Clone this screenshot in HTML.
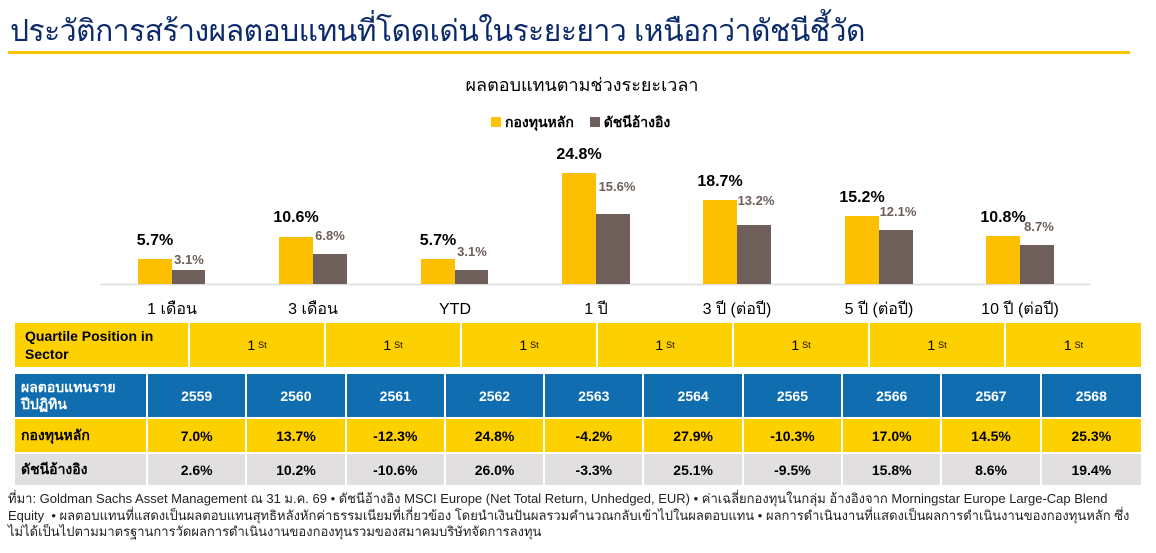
<!DOCTYPE html>
<html><head><meta charset="utf-8"><style>
*{margin:0;padding:0;box-sizing:border-box}
body{width:1156px;height:553px;background:#fff;position:relative;overflow:hidden;font-family:"Liberation Sans","DejaVu Sans",sans-serif}
.a{position:absolute}
.title{left:10px;top:8px;font-size:30px;color:#0b2a6b;white-space:nowrap;letter-spacing:-0.5px}
.row{position:absolute;display:flex}
.row div{display:flex;align-items:center;justify-content:center;font-size:14px;font-weight:bold;border-right:2px solid #fff}
.foot{left:8px;top:491px;font-size:13px;color:#222;line-height:16.5px;width:1150px;white-space:nowrap}
.y div{width:99.3px}
</style></head><body>
<div class="a title">ประวัติการสร้างผลตอบแทนที่โดดเด่นในระยะยาว เหนือกว่าดัชนีชี้วัด</div>
<div class="a" style="left:8px;top:51px;width:1122px;height:3px;background:#fdc300"></div>
<div class="a" style="left:0;width:1156px;top:70px;text-align:center;font-size:18px;color:#000;padding-left:8px">ผลตอบแทนตามช่วงระยะเวลา</div>
<div class="a" style="left:491px;top:112px;font-size:14px;font-weight:bold;white-space:nowrap"><span style="display:inline-block;width:10px;height:10px;background:#fdc300;margin-right:4px"></span>กองทุนหลัก <span style="display:inline-block;width:10px;height:10px;background:#6e5f5b;margin:0 4px 0 12px"></span>ดัชนีอ้างอิง</div>
<svg class="a" style="left:0;top:0" width="1156" height="330" font-family="Liberation Sans, DejaVu Sans, sans-serif">
<line x1="100" y1="284.5" x2="1090" y2="284.5" stroke="#ddd" stroke-width="1.5"/>
<g fill="#fdc000">
<rect x="138" y="259" width="34" height="25"/>
<rect x="279" y="237" width="34" height="47"/>
<rect x="421" y="259" width="34" height="25"/>
<rect x="562" y="173" width="34" height="111"/>
<rect x="703" y="200" width="34" height="84"/>
<rect x="845" y="216" width="34" height="68"/>
<rect x="986" y="236" width="34" height="48"/>
</g>
<g fill="#6e5f5b">
<rect x="172" y="270" width="33" height="14"/>
<rect x="313" y="254" width="34" height="30"/>
<rect x="455" y="270" width="33" height="14"/>
<rect x="596" y="214" width="34" height="70"/>
<rect x="737" y="225" width="34" height="59"/>
<rect x="879" y="230" width="34" height="54"/>
<rect x="1020" y="245" width="34" height="39"/>
</g>
<g font-size="16" font-weight="bold" fill="#000" text-anchor="middle">
<text x="155" y="245">5.7%</text><text x="296" y="222">10.6%</text><text x="438" y="245">5.7%</text>
<text x="579" y="159">24.8%</text><text x="720" y="186">18.7%</text><text x="862" y="202">15.2%</text><text x="1003" y="222">10.8%</text>
</g>
<g font-size="13" font-weight="bold" fill="#6e5f5b" text-anchor="middle">
<text x="189" y="264">3.1%</text><text x="330" y="240">6.8%</text><text x="472" y="256">3.1%</text>
<text x="617" y="191">15.6%</text><text x="756" y="205">13.2%</text><text x="898" y="216">12.1%</text><text x="1039" y="231">8.7%</text>
</g>
<g font-size="16" fill="#000" text-anchor="middle">
<text x="172" y="314">1 เดือน</text><text x="313" y="314">3 เดือน</text><text x="455" y="314">YTD</text>
<text x="596" y="314">1 ปี</text><text x="737" y="314">3 ปี (ต่อปี)</text><text x="879" y="314">5 ปี (ต่อปี)</text><text x="1020" y="314">10 ปี (ต่อปี)</text>
</g>
</svg>
<div class="row" style="left:15px;top:323px;height:44px;background:#fdd000">
<div style="width:175px;justify-content:flex-start;padding-left:10px;line-height:18px">Quartile Position in Sector</div>
<div style="width:136px;font-weight:normal">1 <sup style="font-size:9px;margin-left:3px">St</sup></div><div style="width:136px;font-weight:normal">1 <sup style="font-size:9px;margin-left:3px">St</sup></div><div style="width:136px;font-weight:normal">1 <sup style="font-size:9px;margin-left:3px">St</sup></div><div style="width:136px;font-weight:normal">1 <sup style="font-size:9px;margin-left:3px">St</sup></div><div style="width:136px;font-weight:normal">1 <sup style="font-size:9px;margin-left:3px">St</sup></div><div style="width:136px;font-weight:normal">1 <sup style="font-size:9px;margin-left:3px">St</sup></div><div style="width:135px;font-weight:normal;border:none">1 <sup style="font-size:9px;margin-left:3px">St</sup></div>
</div>
<div class="row y" style="left:15px;top:374px;height:43px;background:#0f6db0;color:#fff">
<div style="width:133px;justify-content:flex-start;padding-left:6px;line-height:17px">ผลตอบแทนราย ปีปฏิทิน</div>
<div>2559</div><div>2560</div><div>2561</div><div>2562</div><div>2563</div><div>2564</div><div>2565</div><div>2566</div><div>2567</div><div style="border:none">2568</div>
</div>
<div class="row y" style="left:15px;top:419px;height:33px;background:#fdd000;color:#000">
<div style="width:133px;justify-content:flex-start;padding-left:6px">กองทุนหลัก</div>
<div>7.0%</div><div>13.7%</div><div>-12.3%</div><div>24.8%</div><div>-4.2%</div><div>27.9%</div><div>-10.3%</div><div>17.0%</div><div>14.5%</div><div style="border:none">25.3%</div>
</div>
<div class="row y" style="left:15px;top:454px;height:31px;background:#e1dfdf;color:#000">
<div style="width:133px;justify-content:flex-start;padding-left:6px">ดัชนีอ้างอิง</div>
<div>2.6%</div><div>10.2%</div><div>-10.6%</div><div>26.0%</div><div>-3.3%</div><div>25.1%</div><div>-9.5%</div><div>15.8%</div><div>8.6%</div><div style="border:none">19.4%</div>
</div>
<div class="a foot">ที่มา: Goldman Sachs Asset Management ณ 31 ม.ค. 69 • ดัชนีอ้างอิง MSCI Europe (Net Total Return, Unhedged, EUR) • ค่าเฉลี่ยกองทุนในกลุ่ม อ้างอิงจาก Morningstar Europe Large-Cap Blend<br>Equity&nbsp; • ผลตอบแทนที่แสดงเป็นผลตอบแทนสุทธิหลังหักค่าธรรมเนียมที่เกี่ยวข้อง โดยนำเงินปันผลรวมคำนวณกลับเข้าไปในผลตอบแทน • ผลการดำเนินงานที่แสดงเป็นผลการดำเนินงานของกองทุนหลัก ซึ่ง<br>ไม่ได้เป็นไปตามมาตรฐานการวัดผลการดำเนินงานของกองทุนรวมของสมาคมบริษัทจัดการลงทุน</div>
</body></html>
